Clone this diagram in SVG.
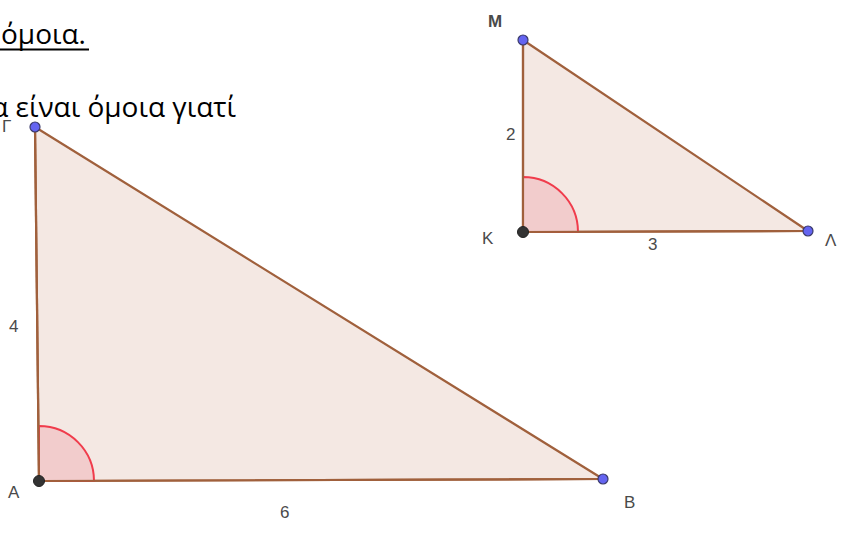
<svg xmlns="http://www.w3.org/2000/svg" width="844" height="547" viewBox="0 0 844 547">
<style>
.tri{fill:#f4e8e3;stroke:#a0603c;stroke-width:2.2;stroke-linejoin:round}
.ang{fill:#f2cccc;stroke:#f03c4c;stroke-width:2}
.pb{fill:#6464f0;stroke:#3a3a6a;stroke-width:1.2}
.pk{fill:#333;stroke:#222;stroke-width:1}
.lbl{font-family:"Liberation Sans",Arial,sans-serif;font-size:17px;fill:#4a4a4a}
.txt{font-family:"Open Sans","Noto Sans",sans-serif;font-size:28px;fill:#000}
</style>
<rect width="844" height="547" fill="#fff"/>
<g id="triangle-big">
<polygon class="tri" points="35,127 39,481 603,479"/>
<path class="ang" d="M39,481 L39,426 A55,55 0 0 1 94,481 Z"/>
<line x1="39" y1="481" x2="603" y2="479" stroke="#a0603c" stroke-width="2.2"/>
<line x1="35" y1="127" x2="39" y2="481" stroke="#a0603c" stroke-width="2.2"/>
<circle class="pb" cx="35" cy="127" r="5"/>
<circle class="pk" cx="39" cy="481" r="5.5"/>
<circle class="pb" cx="603" cy="479" r="5"/>
<text class="lbl" x="2" y="132">Γ</text>
<text class="lbl" x="8" y="498">A</text>
<text class="lbl" x="624" y="508">B</text>
<text class="lbl" x="9" y="332">4</text>
<text class="lbl" x="280" y="518">6</text>
</g>
<g id="triangle-small">
<polygon class="tri" points="523,40 523,232 808,231"/>
<path class="ang" d="M523,232 L523,177 A55,55 0 0 1 578,232 Z"/>
<line x1="523" y1="232" x2="808" y2="231" stroke="#a0603c" stroke-width="2.2"/>
<line x1="523" y1="40" x2="523" y2="232" stroke="#a0603c" stroke-width="2.2"/>
<circle class="pb" cx="523" cy="40" r="5"/>
<circle class="pk" cx="523" cy="232" r="5.5"/>
<circle class="pb" cx="808" cy="231" r="5"/>
<text class="lbl" x="488" y="27" style="font-weight:bold">M</text>
<text class="lbl" x="482" y="244">K</text>
<text class="lbl" x="825" y="246">Λ</text>
<text class="lbl" x="506" y="140">2</text>
<text class="lbl" x="648" y="250">3</text>
</g>
<g id="text">
<text class="txt" x="1" y="44">όμοια.</text>
<line x1="0" y1="49.5" x2="89" y2="49.5" stroke="#000" stroke-width="2"/>
<text class="txt" x="236" y="117" text-anchor="end">α είναι όμοια γιατί</text>
</g>
</svg>
